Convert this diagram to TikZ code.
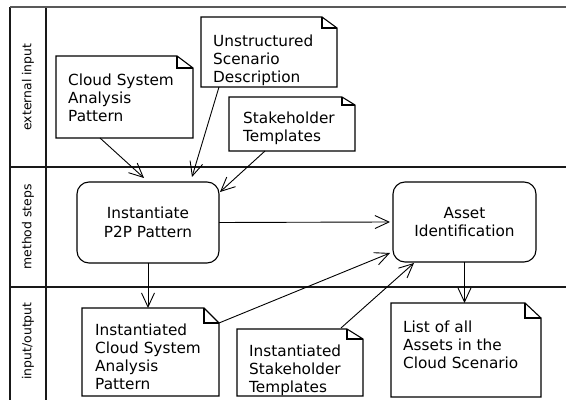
\documentclass[tikz,border=0pt]{standalone}
\usepackage{fontspec}
\setmainfont{DejaVu Sans}
\usetikzlibrary{arrows.meta}

% outline of a dog-eared note: node name, fold width, fold height
\newcommand\dogear[3]{%
  \draw[noteline] (#1.north west) -- ([xshift=-#2pt]#1.north east)
    -- ([yshift=-#3pt]#1.north east) -- (#1.south east) -- (#1.south west) -- cycle;
  \draw[noteline] ([xshift=-#2pt]#1.north east) -- ([xshift=-#2pt,yshift=-#3pt]#1.north east)
    -- ([yshift=-#3pt]#1.north east);
}

\begin{document}
\begin{tikzpicture}[x=1pt,y=-1pt,
  frame/.style={line width=1.3pt, black!90},
  topframe/.style={line width=1.6pt, black!65},
  noteline/.style={line width=1.1pt, black, line join=miter},
  notebox/.style={rectangle, inner sep=0pt, outer sep=0pt, anchor=north west, fill=white},
  notetext/.style={anchor=north west, inner sep=0pt, align=left,
    font=\fontsize{15.3}{18}\selectfont},
  stepbox/.style={draw, line width=1.1pt, rounded corners=12pt, inner sep=0pt,
    outer sep=0pt, anchor=north west, align=center,
    font=\fontsize{15.3}{18.5}\selectfont},
  flow/.style={-{Straight Barb[length=14pt,width=13pt]}, line width=0.9pt},
  lanelabel/.style={rotate=90, inner sep=0pt, font=\fontsize{12.4}{15}\selectfont}
]
\useasboundingbox (0,0) rectangle (566,403);
\fill[white] (0,0) rectangle (566,403);

% swimlane frame
\draw[frame] (10,400) -- (10,7);
\draw[frame] (46,7) -- (46,400);
\draw[frame] (10,167) -- (566,167);
\draw[frame] (10,287) -- (566,287);
\draw[topframe] (10,7) -- (566,7);

\node[lanelabel] (laneext) at (28,87) {external input};
\node[lanelabel] (lanestep) at (28,227) {method steps};
\node[lanelabel] (laneio) at (28,341) {input/output};

% external input
\node[notebox, minimum width=137pt, minimum height=82pt] (csap) at (56,56) {};
\dogear{csap}{16}{12}
\node[notetext] (csap-t) at (68,73.5) {Cloud System\\Analysis\\Pattern};

\node[notebox, minimum width=136pt, minimum height=70pt] (usd) at (201,17) {};
\dogear{usd}{15}{11}
\node[notetext] (usd-t) at (213,34.5) {Unstructured\\Scenario\\Description};

\node[notebox, minimum width=126pt, minimum height=54pt] (st) at (229,97) {};
\dogear{st}{13}{8}
\node[notetext] (st-t) at (243,111.5) {Stakeholder\\Templates};

% method steps
\node[stepbox, minimum width=142pt, minimum height=81pt] (p2p) at (77,182)
  {Instantiate\\P2P Pattern};
\node[stepbox, minimum width=143pt, minimum height=80pt] (asset) at (393,182)
  {Asset\\Identification};

% input/output
\node[notebox, minimum width=137pt, minimum height=88pt] (icsap) at (82,308) {};
\dogear{icsap}{15}{15}
\node[notetext] (icsap-t) at (95,323.5) {Instantiated\\Cloud System\\Analysis\\Pattern};

\node[notebox, minimum width=126pt, minimum height=67pt] (ist) at (237,329) {};
\dogear{ist}{16}{10}
\node[notetext] (ist-t) at (249,344.5) {Instantiated\\Stakeholder\\Templates};

\node[notebox, minimum width=150pt, minimum height=94pt] (list) at (391,303) {};
\dogear{list}{16}{15}
\node[notetext] (list-t) at (403,320.5) {List of all\\Assets in the\\Cloud Scenario};

% flows
\draw[flow] ([xshift=44pt]csap.south west) -- ([xshift=67pt,yshift=4pt]p2p.north west);
\draw[flow] ([xshift=18pt]usd.south west) -- ([xshift=115pt,yshift=5pt]p2p.north west);
\draw[flow] ([xshift=36pt]st.south west) -- ([xshift=1pt,yshift=-10pt]p2p.north east);
\draw[flow] (p2p.east) -- ([xshift=-3pt]asset.west);
\draw[flow] ([yshift=-15pt]icsap.north east) -- ([xshift=-3pt,yshift=9pt]asset.south west);
\draw[flow] ([xshift=-22pt,yshift=1pt]ist.north east) -- ([xshift=21pt,yshift=-1pt]asset.south west);
\draw[flow] (p2p.south) -- (p2p.south |- icsap.north);
\draw[flow] (asset.south) -- (asset.south |- list.north);
\end{tikzpicture}
\end{document}
